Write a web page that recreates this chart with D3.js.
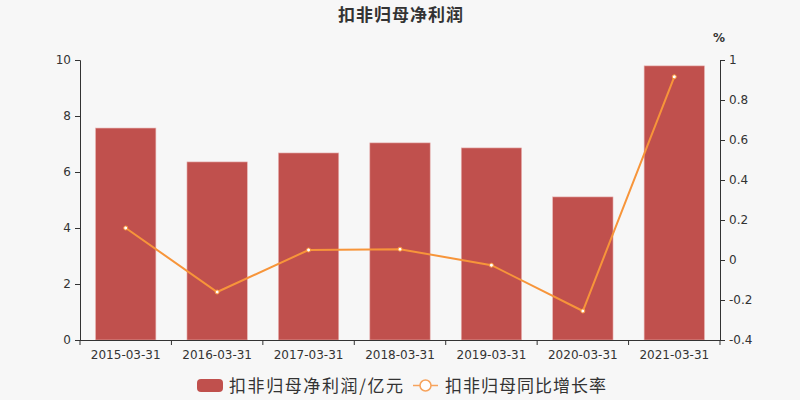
<!DOCTYPE html>
<html><head><meta charset="utf-8">
<script src="https://cdn.jsdelivr.net/npm/d3@7"></script>
<style>
html,body{margin:0;padding:0;background:#f7f7f7;}
</style></head>
<body>
<svg id="chart" width="800" height="400"></svg>
<script>
const categories = ["2015-03-31","2016-03-31","2017-03-31","2018-03-31","2019-03-31","2020-03-31","2021-03-31"];
const profitValues = [7.57, 6.36, 6.68, 7.04, 6.86, 5.11, 9.79];
const growthValues = [0.16, -0.16, 0.05, 0.054, -0.026, -0.255, 0.916];
const leftTicks = [0, 2, 4, 6, 8, 10];
const rightTicks = [-0.4, -0.2, 0, 0.2, 0.4, 0.6, 0.8, 1];
const titleText = "扣非归母净利润";
const legendBar = "扣非归母净利润/亿元";
const legendLine = "扣非归母同比增长率";

const CJK = "'Noto Sans CJK SC','DejaVu Sans',sans-serif";
const LAT = "'DejaVu Sans',sans-serif";
const svg = d3.select("#chart");
svg.append("rect").attr("width",800).attr("height",400).attr("fill","#f7f7f7");
const L = 80, R = 720, T = 60, B = 340;
const x = d3.scaleBand().domain(categories).range([L, R]).paddingInner(0.34).paddingOuter(0.17);
const xb = d3.scaleBand().domain(categories).range([L, R]);
const yL = d3.scaleLinear().domain([0, 10]).range([B, T]);
const yR = d3.scaleLinear().domain([-0.4, 1]).range([B, T]);
const axisColor = "#333", textColor = "#333";

svg.append("text").attr("x",338).attr("y",21)
  .attr("textLength",125).attr("lengthAdjust","spacing")
  .style("font-family",CJK).style("font-size","17px").style("font-weight","bold")
  .attr("fill","#333").text(titleText);

// bars
svg.append("g").selectAll("rect").data(profitValues).join("rect")
  .attr("x",(d,i)=>x(categories[i])).attr("width",x.bandwidth())
  .attr("y",d=>yL(d)).attr("height",d=>B-yL(d))
  .attr("fill","#c0504d").attr("stroke","#e8b4b3").attr("stroke-width",0.6);

// left axis
const gL = svg.append("g").attr("transform",`translate(${L},0)`)
  .call(d3.axisLeft(yL).tickValues(leftTicks).tickSize(5).tickPadding(4).tickFormat(d3.format("d")));
// right axis
const gR = svg.append("g").attr("transform",`translate(${R},0)`)
  .call(d3.axisRight(yR).tickValues(rightTicks).tickSize(5).tickPadding(4).tickFormat(d=>String(+d.toFixed(1))));
// bottom axis
const gB = svg.append("g").attr("transform",`translate(0,${B})`)
  .call(d3.axisBottom(xb).tickSize(0).tickPadding(10));
[gL,gR,gB].forEach(g=>{
  g.select(".domain").attr("stroke",axisColor).attr("stroke-width",1);
  g.selectAll(".tick line").attr("stroke",axisColor);
  g.selectAll(".tick text").attr("fill",textColor)
    .style("font-size","12px").style("font-family",LAT);
});
gB.select(".domain").attr("d",`M${L},0.5H${R}`);
// band boundary ticks
gB.selectAll("line.bt").data(d3.range(categories.length+1)).join("line").attr("class","bt")
  .attr("x1",i=>L+i*xb.step()).attr("x2",i=>L+i*xb.step())
  .attr("y1",0).attr("y2",5).attr("stroke",axisColor);

svg.append("text").attr("x",719).attr("y",42).attr("text-anchor","middle")
  .style("font-size","12px").style("font-family",LAT).style("font-weight","bold").attr("fill",textColor).text("%");

// line
const cx = (i)=>xb(categories[i]) + xb.bandwidth()/2;
svg.append("path").datum(growthValues)
  .attr("d", d3.line().x((d,i)=>cx(i)).y(d=>yR(d)))
  .attr("fill","none").attr("stroke","#f7953a").attr("stroke-width",2);
svg.append("g").selectAll("circle").data(growthValues).join("circle")
  .attr("cx",(d,i)=>cx(i)).attr("cy",d=>yR(d)).attr("r",2)
  .attr("fill","#fff").attr("stroke","#f7953a").attr("stroke-width",1);

// legend
const lg = svg.append("g");
lg.append("rect").attr("x",197).attr("y",379).attr("width",26).attr("height",13).attr("rx",4).attr("fill","#c0504d");
lg.append("text").attr("x",229).attr("y",392).attr("textLength",174).attr("lengthAdjust","spacing")
  .style("font-size","17px").style("font-family",CJK).attr("fill","#333").text(legendBar);
lg.append("line").attr("x1",413).attr("x2",438).attr("y1",385.5).attr("y2",385.5).attr("stroke","#f7a35c").attr("stroke-width",1.5);
lg.append("circle").attr("cx",425.5).attr("cy",385.5).attr("r",5.5).attr("fill","#fff").attr("stroke","#f7a35c").attr("stroke-width",1.5);
lg.append("text").attr("x",445).attr("y",392).attr("textLength",161).attr("lengthAdjust","spacing")
  .style("font-size","17px").style("font-family",CJK).attr("fill","#333").text(legendLine);
</script>
</body></html>
